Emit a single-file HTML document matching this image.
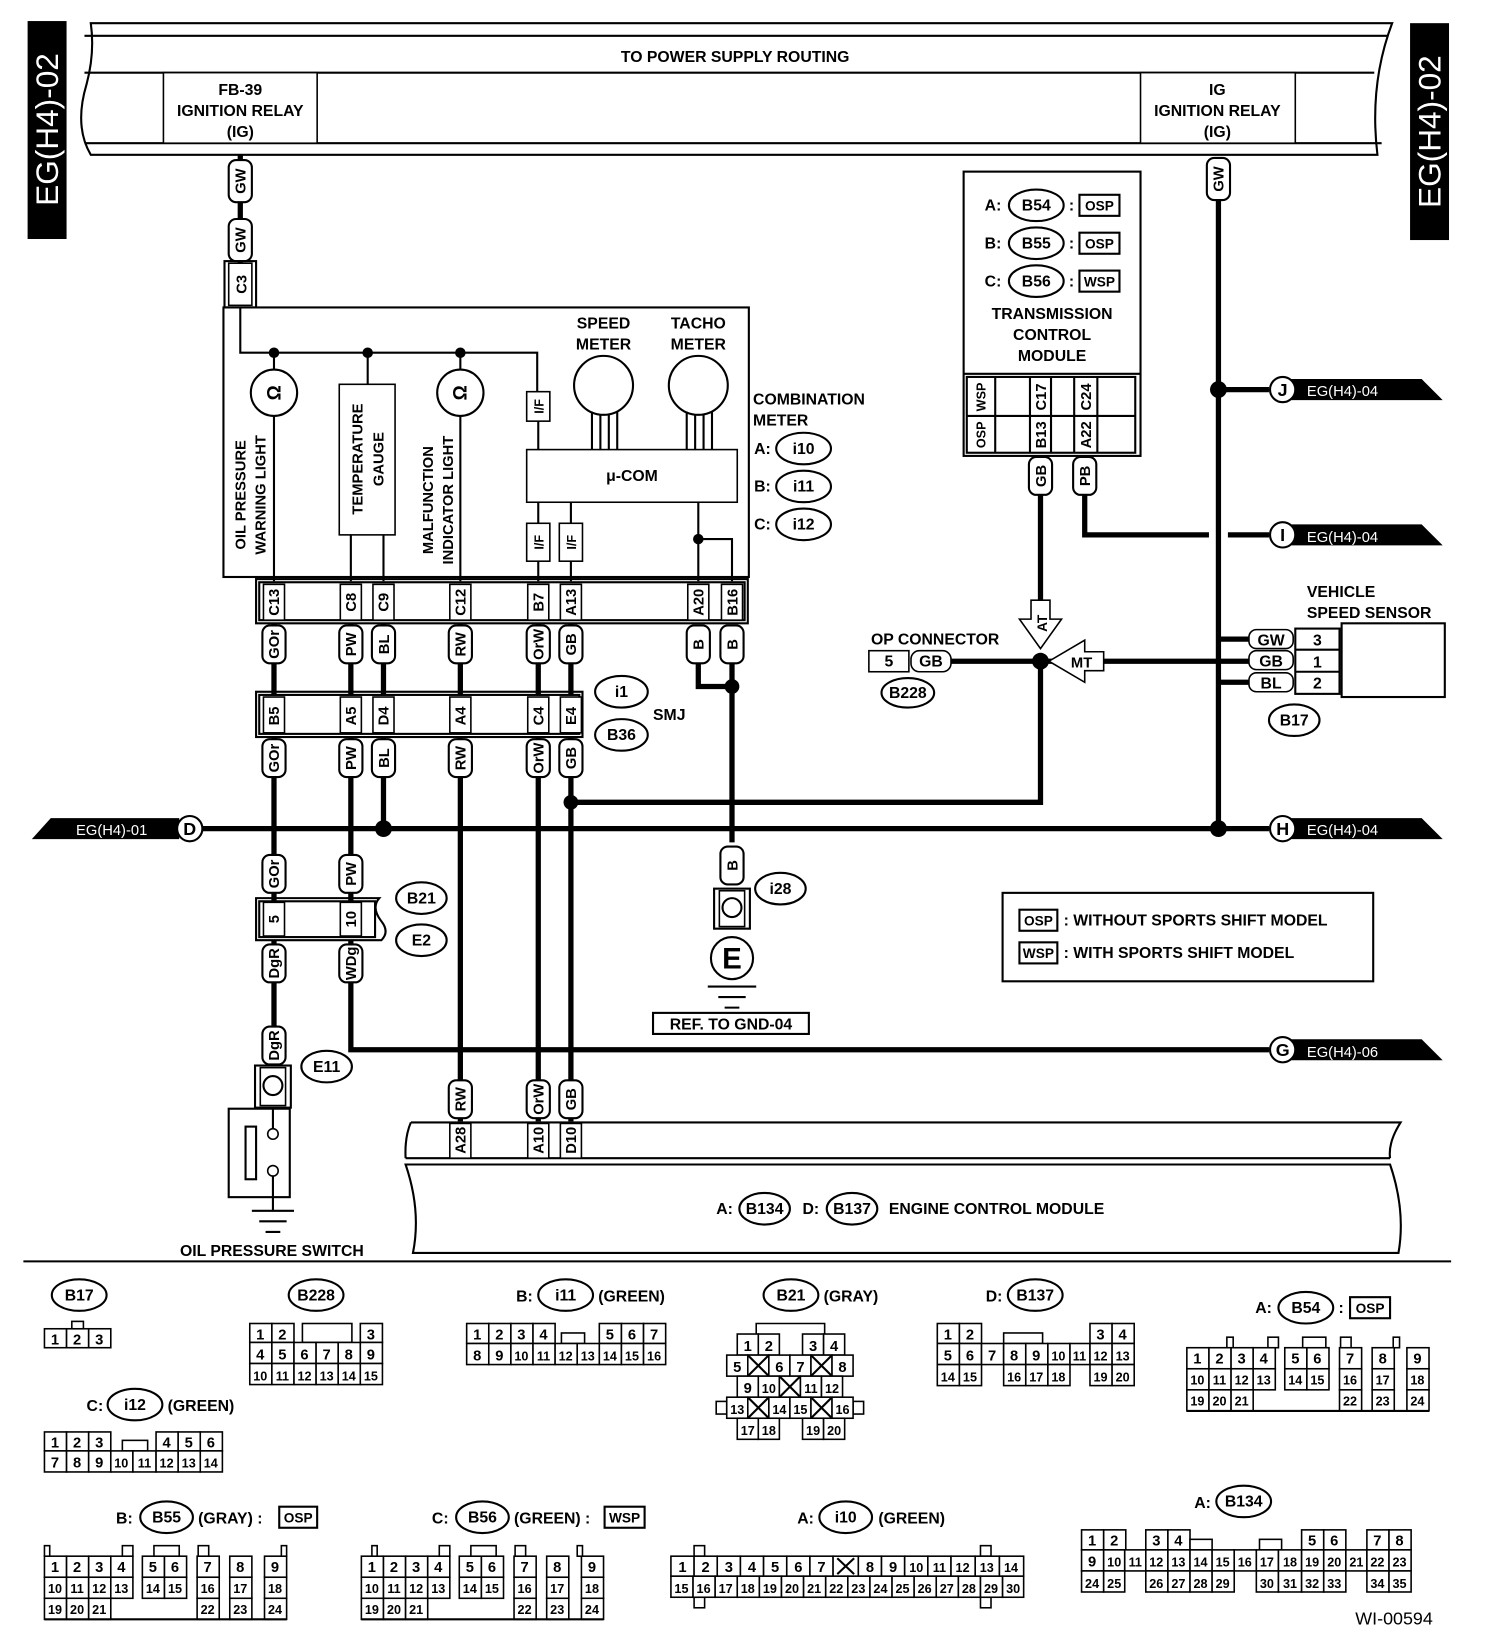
<!DOCTYPE html>
<html><head><meta charset="utf-8"><style>
html,body{margin:0;padding:0;background:#fff}
svg{display:block}
text{font-family:"Liberation Sans",Arial,sans-serif;font-weight:bold;fill:#000}
.c{fill:#fff;stroke:#000;stroke-width:1.5}
.n{font-size:14px;text-anchor:middle;font-family:"Liberation Sans Narrow","Liberation Sans",sans-serif}
.t{fill:#fff;stroke:#000;stroke-width:2}
.v{font-size:14px;text-anchor:middle}
.w{stroke:#000;stroke-width:5;fill:none}
.l{stroke:#000;stroke-width:2;fill:none}
.m{font-size:15px;text-anchor:middle}
</style></head><body>
<svg width="1504" height="1652" viewBox="0 0 1428 1569" xmlns="http://www.w3.org/2000/svg">
<rect width="1428" height="1569" fill="#fff"/>
<rect x="26" y="20" width="37" height="207" fill="#000"/>
<text transform="translate(55,123) rotate(-90)" style="font-size:30px;fill:#fff;text-anchor:middle;font-weight:normal">EG(H4)-02</text>
<rect x="1339" y="22" width="37" height="206" fill="#000"/>
<text transform="translate(1368,125) rotate(-90)" style="font-size:30px;fill:#fff;text-anchor:middle;font-weight:normal">EG(H4)-02</text>
<path class="l" d="M86,22 H1322 Q1300,80 1308,147 H86 Q70,120 82,80 Q90,50 86,22 Z" stroke-width="2.5"/>
<line class="l" x1="80" y1="34" x2="1318" y2="34"/>
<line class="l" x1="80" y1="69" x2="1305" y2="69"/>
<line class="l" x1="80" y1="136" x2="1312" y2="136"/>
<text x="698" y="59" style="font-size:15px;text-anchor:middle">TO POWER SUPPLY ROUTING</text>
<rect class="c" x="155" y="69" width="146" height="67" stroke-width="2"/>
<text class="m" x="228" y="90">FB-39</text><text class="m" x="228" y="110">IGNITION RELAY</text><text class="m" x="228" y="130">(IG)</text>
<rect class="c" x="1083" y="69" width="147" height="67" stroke-width="2"/>
<text class="m" x="1156" y="90">IG</text><text class="m" x="1156" y="110">IGNITION RELAY</text><text class="m" x="1156" y="130">(IG)</text>

<line class="w" x1="228" y1="147" x2="228" y2="260"/>
<g transform="translate(228,172)"><rect x="-11" y="-20" width="22" height="40" rx="7" class="t"/><text transform="rotate(-90)" class="v" y="5">GW</text></g>
<g transform="translate(228,228)"><rect x="-11" y="-20" width="22" height="40" rx="7" class="t"/><text transform="rotate(-90)" class="v" y="5">GW</text></g>
<rect class="c" x="217" y="250" width="22" height="40" stroke-width="2"/><rect class="l" x="213" y="248" width="30" height="44" stroke-width="1.5"/>
<text transform="translate(234,270) rotate(-90)" class="v">C3</text>

<rect class="l" x="212" y="292" width="499" height="256" stroke-width="2.5"/>
<path class="l" d="M228,292 V335 H510 V372" stroke-width="2.5"/>
<circle cx="260" cy="335" r="5"/><circle cx="349" cy="335" r="5"/><circle cx="437" cy="335" r="5"/>
<line class="l" x1="260" y1="335" x2="260" y2="552"/>
<circle class="t" cx="260" cy="373" r="22" stroke-width="2.5"/>
<text transform="translate(266,373) rotate(-90)" class="v" style="font-size:18px">Ω</text>
<line class="l" x1="437" y1="335" x2="437" y2="552"/>
<circle class="t" cx="437" cy="373" r="22" stroke-width="2.5"/>
<text transform="translate(443,373) rotate(-90)" class="v" style="font-size:18px">Ω</text>
<line class="l" x1="349" y1="335" x2="349" y2="365"/>
<rect class="c" x="322" y="365" width="53" height="143" stroke-width="2.5"/>
<line class="l" x1="333" y1="508" x2="333" y2="552"/><line class="l" x1="364" y1="508" x2="364" y2="552"/>
<text transform="translate(344,436) rotate(-90)" class="v">TEMPERATURE</text>
<text transform="translate(364,436) rotate(-90)" class="v">GAUGE</text>
<text transform="translate(233,470) rotate(-90)" class="v">OIL PRESSURE</text>
<text transform="translate(252,470) rotate(-90)" class="v">WARNING LIGHT</text>
<text transform="translate(411,475) rotate(-90)" class="v">MALFUNCTION</text>
<text transform="translate(430,475) rotate(-90)" class="v">INDICATOR LIGHT</text>
<rect class="c" x="500" y="372" width="22" height="28" stroke-width="2"/><text transform="translate(516,386) rotate(-90)" class="v" style="font-size:12px">I/F</text>
<line class="l" x1="511" y1="400" x2="511" y2="427"/>
<text class="m" x="573" y="312">SPEED</text><text class="m" x="573" y="332">METER</text>
<text class="m" x="663" y="312">TACHO</text><text class="m" x="663" y="332">METER</text>
<circle class="l" cx="573" cy="366" r="28" stroke-width="2.5"/><circle class="l" cx="663" cy="366" r="28" stroke-width="2.5"/>
<path class="l" d="M562,391V427M570,394V427M578,394V427M586,391V427M652,391V427M660,394V427M668,394V427M676,391V427"/>
<rect class="c" x="500" y="427" width="200" height="50" stroke-width="2.5"/>
<text class="m" x="600" y="457">μ-COM</text>
<line class="l" x1="511" y1="477" x2="511" y2="552"/><line class="l" x1="542" y1="477" x2="542" y2="552"/>
<rect class="c" x="500" y="497" width="22" height="36" stroke-width="2"/><text transform="translate(516,515) rotate(-90)" class="v" style="font-size:12px">I/F</text>
<rect class="c" x="531" y="497" width="22" height="36" stroke-width="2"/><text transform="translate(547,515) rotate(-90)" class="v" style="font-size:12px">I/F</text>
<path class="l" d="M663,477V552M663,512H695V552"/><circle cx="663" cy="512" r="5"/>
<text x="715" y="384" style="font-size:15px">COMBINATION</text><text x="715" y="404" style="font-size:15px">METER</text>
<text x="716" y="431" style="font-size:15px">A:</text><ellipse class="l" cx="763" cy="426" rx="26" ry="15"/><text class="m" x="763" y="431">i10</text>
<text x="716" y="467" style="font-size:15px">B:</text><ellipse class="l" cx="763" cy="462" rx="26" ry="15"/><text class="m" x="763" y="467">i11</text>
<text x="716" y="503" style="font-size:15px">C:</text><ellipse class="l" cx="763" cy="498" rx="26" ry="15"/><text class="m" x="763" y="503">i12</text>

<rect class="l" x="243" y="550" width="467" height="42" stroke-width="2"/>
<rect class="l" x="246" y="553" width="461" height="36" stroke-width="1.5"/>
<g class="v">
<rect class="c" x="250" y="555" width="20" height="34"/><text transform="translate(265,572) rotate(-90)">C13</text>
<rect class="c" x="323" y="555" width="20" height="34"/><text transform="translate(338,572) rotate(-90)">C8</text>
<rect class="c" x="354" y="555" width="20" height="34"/><text transform="translate(369,572) rotate(-90)">C9</text>
<rect class="c" x="427" y="555" width="20" height="34"/><text transform="translate(442,572) rotate(-90)">C12</text>
<rect class="c" x="501" y="555" width="20" height="34"/><text transform="translate(516,572) rotate(-90)">B7</text>
<rect class="c" x="532" y="555" width="20" height="34"/><text transform="translate(547,572) rotate(-90)">A13</text>
<rect class="c" x="653" y="555" width="20" height="34"/><text transform="translate(668,572) rotate(-90)">A20</text>
<rect class="c" x="685" y="555" width="20" height="34"/><text transform="translate(700,572) rotate(-90)">B16</text>
</g>
<path class="w" d="M260,592V660M333,592V660M364,592V660M437,592V660M511,592V660M542,592V660"/>
<path class="w" d="M663,630V652H695M695,630V800"/><circle cx="695" cy="652" r="7"/>
<g transform="translate(260,612)"><rect x="-11" y="-18" width="22" height="36" rx="7" class="t"/><text transform="rotate(-90)" class="v" y="5">GOr</text></g>
<g transform="translate(333,612)"><rect x="-11" y="-18" width="22" height="36" rx="7" class="t"/><text transform="rotate(-90)" class="v" y="5">PW</text></g>
<g transform="translate(364,612)"><rect x="-11" y="-18" width="22" height="36" rx="7" class="t"/><text transform="rotate(-90)" class="v" y="5">BL</text></g>
<g transform="translate(437,612)"><rect x="-11" y="-18" width="22" height="36" rx="7" class="t"/><text transform="rotate(-90)" class="v" y="5">RW</text></g>
<g transform="translate(511,612)"><rect x="-11" y="-18" width="22" height="36" rx="7" class="t"/><text transform="rotate(-90)" class="v" y="5">OrW</text></g>
<g transform="translate(542,612)"><rect x="-11" y="-18" width="22" height="36" rx="7" class="t"/><text transform="rotate(-90)" class="v" y="5">GB</text></g>
<g transform="translate(663,612)"><rect x="-11" y="-18" width="22" height="36" rx="7" class="t"/><text transform="rotate(-90)" class="v" y="5">B</text></g>
<g transform="translate(695,612)"><rect x="-11" y="-18" width="22" height="36" rx="7" class="t"/><text transform="rotate(-90)" class="v" y="5">B</text></g>

<rect class="l" x="243" y="657" width="310" height="43" stroke-width="2"/>
<rect class="l" x="246" y="660" width="304" height="37" stroke-width="1.5"/>
<g class="v">
<rect class="c" x="250" y="662" width="20" height="34"/><text transform="translate(265,680) rotate(-90)">B5</text>
<rect class="c" x="323" y="662" width="20" height="34"/><text transform="translate(338,680) rotate(-90)">A5</text>
<rect class="c" x="354" y="662" width="20" height="34"/><text transform="translate(369,680) rotate(-90)">D4</text>
<rect class="c" x="427" y="662" width="20" height="34"/><text transform="translate(442,680) rotate(-90)">A4</text>
<rect class="c" x="501" y="662" width="20" height="34"/><text transform="translate(516,680) rotate(-90)">C4</text>
<rect class="c" x="532" y="662" width="20" height="34"/><text transform="translate(547,680) rotate(-90)">E4</text>
</g>
<ellipse class="l" cx="590" cy="657" rx="25" ry="15"/><text class="m" x="590" y="662">i1</text>
<ellipse class="l" cx="590" cy="698" rx="25" ry="15"/><text class="m" x="590" y="703">B36</text>
<text x="620" y="684" style="font-size:15px">SMJ</text>
<path class="w" d="M260,700V860M333,700V860M364,700V787M437,700V1065M511,700V1065M542,700V1065"/>
<path class="w" d="M542,762H988V628"/><circle cx="542" cy="762" r="7"/>
<g transform="translate(260,720)"><rect x="-11" y="-18" width="22" height="36" rx="7" class="t"/><text transform="rotate(-90)" class="v" y="5">GOr</text></g>
<g transform="translate(333,720)"><rect x="-11" y="-18" width="22" height="36" rx="7" class="t"/><text transform="rotate(-90)" class="v" y="5">PW</text></g>
<g transform="translate(364,720)"><rect x="-11" y="-18" width="22" height="36" rx="7" class="t"/><text transform="rotate(-90)" class="v" y="5">BL</text></g>
<g transform="translate(437,720)"><rect x="-11" y="-18" width="22" height="36" rx="7" class="t"/><text transform="rotate(-90)" class="v" y="5">RW</text></g>
<g transform="translate(511,720)"><rect x="-11" y="-18" width="22" height="36" rx="7" class="t"/><text transform="rotate(-90)" class="v" y="5">OrW</text></g>
<g transform="translate(542,720)"><rect x="-11" y="-18" width="22" height="36" rx="7" class="t"/><text transform="rotate(-90)" class="v" y="5">GB</text></g>

<line class="w" x1="192" y1="787" x2="1205" y2="787"/>
<circle cx="364" cy="787" r="8"/><circle cx="1157" cy="787" r="8"/>
<path d="M30,797 L48,777 H170 V797 Z" fill="#000"/>
<text x="72" y="793" style="font-size:14px;fill:#fff;font-weight:normal">EG(H4)-01</text>
<circle cx="180" cy="787" r="12" class="t" stroke-width="2.5"/><text class="m" x="180" y="793" style="font-size:17px">D</text>
<path d="M1225,777 H1350 L1370,797 H1225 Z" fill="#000"/>
<circle cx="1218" cy="787" r="12" class="t" stroke-width="2.5"/><text class="m" x="1218" y="793" style="font-size:17px">H</text>
<text x="1241" y="793" style="font-size:14px;fill:#fff;font-weight:normal">EG(H4)-04</text>

<g transform="translate(260,830)"><rect x="-11" y="-18" width="22" height="36" rx="7" class="t"/><text transform="rotate(-90)" class="v" y="5">GOr</text></g>
<g transform="translate(333,830)"><rect x="-11" y="-18" width="22" height="36" rx="7" class="t"/><text transform="rotate(-90)" class="v" y="5">PW</text></g>
<path class="l" d="M243,853 H360 Q352,862 362,875 Q370,885 362,893 H243 Z" stroke-width="2"/>
<rect class="l" x="246" y="856" width="110" height="34" stroke-width="1.5"/>
<rect class="c" x="250" y="857" width="20" height="32"/><text transform="translate(265,873) rotate(-90)" class="v">5</text>
<rect class="c" x="323" y="857" width="20" height="32"/><text transform="translate(338,873) rotate(-90)" class="v">10</text>
<ellipse class="l" cx="400" cy="853" rx="24" ry="15"/><text class="m" x="400" y="858">B21</text>
<ellipse class="l" cx="400" cy="893" rx="24" ry="15"/><text class="m" x="400" y="898">E2</text>
<path class="w" d="M260,893V975M333,893V997H1205"/>
<g transform="translate(260,915)"><rect x="-11" y="-18" width="22" height="36" rx="7" class="t"/><text transform="rotate(-90)" class="v" y="5">DgR</text></g>
<g transform="translate(333,915)"><rect x="-11" y="-18" width="22" height="36" rx="7" class="t"/><text transform="rotate(-90)" class="v" y="5">WDg</text></g>
<path d="M1225,987 H1350 L1370,1007 H1225 Z" fill="#000"/>
<circle cx="1218" cy="997" r="12" class="t" stroke-width="2.5"/><text class="m" x="1218" y="1003" style="font-size:17px">G</text>
<text x="1241" y="1004" style="font-size:14px;fill:#fff;font-weight:normal">EG(H4)-06</text>

<g transform="translate(260,993)"><rect x="-11" y="-18" width="22" height="36" rx="7" class="t"/><text transform="rotate(-90)" class="v" y="5">DgR</text></g>
<rect class="l" x="242" y="1012" width="34" height="40" stroke-width="2"/>
<rect class="c" x="247" y="1014" width="24" height="36" stroke-width="2"/>
<circle class="l" cx="259" cy="1031" r="9" stroke-width="2.5"/>
<ellipse class="l" cx="310" cy="1013" rx="24" ry="15"/><text class="m" x="310" y="1018">E11</text>
<rect class="l" x="217" y="1053" width="58" height="84" stroke-width="2.5"/>
<rect class="l" x="233" y="1070" width="10" height="50"/>
<path class="l" d="M259,1052V1072M259,1112V1150" stroke-width="2.5"/>
<circle class="c" cx="259" cy="1077" r="5" stroke-width="2"/><circle class="c" cx="259" cy="1112" r="5" stroke-width="2"/>
<path class="l" d="M239,1150H279M246,1160H272M252,1170H266" stroke-width="2.5"/>
<text class="m" x="258" y="1193">OIL PRESSURE SWITCH</text>

<g transform="translate(695,822)"><rect x="-11" y="-18" width="22" height="36" rx="7" class="t"/><text transform="rotate(-90)" class="v" y="5">B</text></g>
<rect class="l" x="678" y="844" width="34" height="38" stroke-width="2"/>
<rect class="c" x="683" y="846" width="24" height="34" stroke-width="2"/>
<circle class="l" cx="695" cy="862" r="9" stroke-width="2.5"/>
<ellipse class="l" cx="741" cy="844" rx="24" ry="15"/><text class="m" x="741" y="849">i28</text>
<circle class="t" cx="695" cy="910" r="20" stroke-width="3"/><text class="m" x="695" y="920" style="font-size:28px">E</text>
<path class="l" d="M672,937H718M682,947H708M688,957H702" stroke-width="2.5"/>
<rect class="l" x="620" y="962" width="148" height="20" stroke-width="2"/>
<text class="m" x="694" y="978">REF. TO GND-04</text>

<g transform="translate(437,1044)"><rect x="-11" y="-18" width="22" height="36" rx="7" class="t"/><text transform="rotate(-90)" class="v" y="5">RW</text></g>
<g transform="translate(511,1044)"><rect x="-11" y="-18" width="22" height="36" rx="7" class="t"/><text transform="rotate(-90)" class="v" y="5">OrW</text></g>
<g transform="translate(542,1044)"><rect x="-11" y="-18" width="22" height="36" rx="7" class="t"/><text transform="rotate(-90)" class="v" y="5">GB</text></g>
<path class="l" d="M390,1066 H1330 Q1318,1085 1320,1100 M390,1066 Q384,1080 385,1100" stroke-width="2.5"/>
<line class="l" x1="385" y1="1100" x2="1320" y2="1100" stroke-width="2.5"/>
<path class="l" d="M385,1106 H1320 Q1335,1150 1328,1190 H392 Q400,1150 385,1106 Z" stroke-width="2.5"/>
<rect class="c" x="427" y="1067" width="20" height="33"/><text transform="translate(442,1083) rotate(-90)" class="v">A28</text>
<rect class="c" x="501" y="1067" width="20" height="33"/><text transform="translate(516,1083) rotate(-90)" class="v">A10</text>
<rect class="c" x="532" y="1067" width="20" height="33"/><text transform="translate(547,1083) rotate(-90)" class="v">D10</text>
<text x="680" y="1153" style="font-size:15px">A:</text><ellipse class="l" cx="726" cy="1148" rx="24" ry="15"/><text class="m" x="726" y="1153">B134</text>
<text x="762" y="1153" style="font-size:15px">D:</text><ellipse class="l" cx="809" cy="1148" rx="24" ry="15"/><text class="m" x="809" y="1153">B137</text>
<text x="844" y="1153" style="font-size:15px">ENGINE CONTROL MODULE</text>

<rect class="l" x="915" y="163" width="168" height="270" stroke-width="2.5"/>
<text x="935" y="200" style="font-size:15px">A:</text><ellipse class="l" cx="984" cy="195" rx="26" ry="15"/><text class="m" x="984" y="200">B54</text><text x="1015" y="200" style="font-size:15px">:</text><rect class="l" x="1025" y="185" width="38" height="20" stroke-width="2"/><text class="m" x="1044" y="200" style="font-size:13px">OSP</text>
<text x="935" y="236" style="font-size:15px">B:</text><ellipse class="l" cx="984" cy="231" rx="26" ry="15"/><text class="m" x="984" y="236">B55</text><text x="1015" y="236" style="font-size:15px">:</text><rect class="l" x="1025" y="221" width="38" height="20" stroke-width="2"/><text class="m" x="1044" y="236" style="font-size:13px">OSP</text>
<text x="935" y="272" style="font-size:15px">C:</text><ellipse class="l" cx="984" cy="267" rx="26" ry="15"/><text class="m" x="984" y="272">B56</text><text x="1015" y="272" style="font-size:15px">:</text><rect class="l" x="1025" y="257" width="38" height="20" stroke-width="2"/><text class="m" x="1044" y="272" style="font-size:13px">WSP</text>
<text class="m" x="999" y="303">TRANSMISSION</text><text class="m" x="999" y="323">CONTROL</text><text class="m" x="999" y="343">MODULE</text>
<line class="l" x1="915" y1="355" x2="1083" y2="355" stroke-width="2.5"/>
<rect class="l" x="918" y="358" width="160" height="72" stroke-width="1.5"/>
<path class="l" d="M918,395H1078M945,358V430M978,358V430M998,358V430M1020,358V430M1042,358V430" stroke-width="1.5"/>
<text transform="translate(936,377) rotate(-90)" class="v" style="font-size:12px">WSP</text>
<text transform="translate(936,413) rotate(-90)" class="v" style="font-size:12px">OSP</text>
<text transform="translate(993,377) rotate(-90)" class="v">C17</text>
<text transform="translate(993,413) rotate(-90)" class="v">B13</text>
<text transform="translate(1036,377) rotate(-90)" class="v">C24</text>
<text transform="translate(1036,413) rotate(-90)" class="v">A22</text>
<path class="w" d="M988,470V575M1030,470V508H1148M1166,508H1205"/>
<g transform="translate(988,452)"><rect x="-11" y="-18" width="22" height="36" rx="7" class="t"/><text transform="rotate(-90)" class="v" y="5">GB</text></g>
<g transform="translate(1030,452)"><rect x="-11" y="-18" width="22" height="36" rx="7" class="t"/><text transform="rotate(-90)" class="v" y="5">PB</text></g>
<path class="w" d="M1157,190V787M1157,370H1205M1157,607H1190"/>
<g transform="translate(1157,170)"><rect x="-11" y="-20" width="22" height="40" rx="7" class="t"/><text transform="rotate(-90)" class="v" y="5">GW</text></g>
<circle cx="1157" cy="370" r="8"/>
<path d="M1225,360 H1350 L1370,380 H1225 Z" fill="#000"/>
<circle cx="1218" cy="370" r="12" class="t" stroke-width="2.5"/><text class="m" x="1218" y="376" style="font-size:17px">J</text>
<text x="1241" y="376" style="font-size:14px;fill:#fff;font-weight:normal">EG(H4)-04</text>
<path d="M1225,498 H1350 L1370,518 H1225 Z" fill="#000"/>
<circle cx="1218" cy="508" r="12" class="t" stroke-width="2.5"/><text class="m" x="1218" y="514" style="font-size:17px">I</text>
<text x="1241" y="515" style="font-size:14px;fill:#fff;font-weight:normal">EG(H4)-04</text>

<path class="w" d="M900,628H1190M1157,648H1190"/>
<circle cx="988" cy="628" r="8"/>
<path class="c" d="M979,570 H997 V588 H1008 L988,616 L968,588 H979 Z" stroke-width="2.5"/>
<text transform="translate(994,592) rotate(-90)" class="v" style="font-size:13px">AT</text>
<path class="c" d="M1048,619 V637 H1030 V648 L996,628 L1030,608 V619 Z" stroke-width="2.5"/>
<text x="1027" y="634" class="v" style="font-size:14px">MT</text>
<text x="827" y="612" style="font-size:15px">OP CONNECTOR</text>
<rect class="c" x="825" y="618" width="38" height="20" stroke-width="2"/><text class="m" x="844" y="633">5</text>
<rect class="c" x="865" y="618" width="38" height="20" rx="8" stroke-width="2"/><text class="m" x="884" y="633">GB</text>
<ellipse class="l" cx="862" cy="658" rx="25" ry="14"/><text class="m" x="862" y="663">B228</text>
<text x="1241" y="567" style="font-size:15px">VEHICLE</text><text x="1241" y="587" style="font-size:15px">SPEED SENSOR</text>
<rect class="c" x="1186" y="598" width="42" height="18" rx="7" stroke-width="2"/><text class="m" x="1207" y="613">GW</text>
<rect class="c" x="1186" y="618" width="42" height="18" rx="7" stroke-width="2"/><text class="m" x="1207" y="633">GB</text>
<rect class="c" x="1186" y="639" width="42" height="18" rx="7" stroke-width="2"/><text class="m" x="1207" y="654">BL</text>
<rect class="l" x="1230" y="597" width="42" height="62" stroke-width="2"/>
<path class="l" d="M1230,617H1272M1230,638H1272"/>
<text class="m" x="1251" y="613">3</text><text class="m" x="1251" y="634">1</text><text class="m" x="1251" y="654">2</text>
<rect class="l" x="1274" y="592" width="98" height="70" stroke-width="2"/>
<ellipse class="l" cx="1229" cy="684" rx="24" ry="15"/><text class="m" x="1229" y="689">B17</text>

<rect class="l" x="952" y="848" width="352" height="84" stroke-width="2.5"/>
<rect class="l" x="968" y="864" width="36" height="20" stroke-width="2"/><text class="m" x="986" y="879" style="font-size:13px">OSP</text>
<text x="1010" y="879" style="font-size:15px">: WITHOUT SPORTS SHIFT MODEL</text>
<rect class="l" x="968" y="895" width="36" height="20" stroke-width="2"/><text class="m" x="986" y="910" style="font-size:13px">WSP</text>
<text x="1010" y="910" style="font-size:15px">: WITH SPORTS SHIFT MODEL</text>

<line class="l" x1="22" y1="1198" x2="1378" y2="1198" stroke-width="2.5"/>

<ellipse class="l" cx="75" cy="1230" rx="26" ry="15"/><text class="m" x="75" y="1235">B17</text>
<g class="c"><rect x="42" y="1262" width="21" height="18"/><rect x="63" y="1262" width="21" height="18"/><rect x="84" y="1262" width="21" height="18"/><rect x="68" y="1255" width="11" height="7"/></g>
<g class="n"><text x="52" y="1277">1</text><text x="73" y="1277">2</text><text x="94" y="1277">3</text></g>

<ellipse class="l" cx="300" cy="1230" rx="26" ry="15"/><text class="m" x="300" y="1235">B228</text>
<g class="c"><rect x="237" y="1257" width="21" height="18"/><rect x="258" y="1257" width="21" height="18"/><rect x="287" y="1257" width="47" height="18"/><rect x="342" y="1257" width="21" height="18"/>
<rect x="237" y="1275" width="21" height="20"/><rect x="258" y="1275" width="21" height="20"/><rect x="279" y="1275" width="21" height="20"/><rect x="300" y="1275" width="21" height="20"/><rect x="321" y="1275" width="21" height="20"/><rect x="342" y="1275" width="21" height="20"/>
<rect x="237" y="1295" width="21" height="20"/><rect x="258" y="1295" width="21" height="20"/><rect x="279" y="1295" width="21" height="20"/><rect x="300" y="1295" width="21" height="20"/><rect x="321" y="1295" width="21" height="20"/><rect x="342" y="1295" width="21" height="20"/></g>
<g class="n"><text x="247" y="1272">1</text><text x="268" y="1272">2</text><text x="352" y="1272">3</text>
<text x="247" y="1291">4</text><text x="268" y="1291">5</text><text x="289" y="1291">6</text><text x="310" y="1291">7</text><text x="331" y="1291">8</text><text x="352" y="1291">9</text>
<text x="247" y="1311" style="font-size:12px">10</text><text x="268" y="1311" style="font-size:12px">11</text><text x="289" y="1311" style="font-size:12px">12</text><text x="310" y="1311" style="font-size:12px">13</text><text x="331" y="1311" style="font-size:12px">14</text><text x="352" y="1311" style="font-size:12px">15</text></g>

<text x="490" y="1236" style="font-size:15px">B:</text><ellipse class="l" cx="537" cy="1230" rx="26" ry="15"/><text class="m" x="537" y="1235">i11</text><text x="568" y="1236" style="font-size:15px">(GREEN)</text>
<g class="c"><rect x="443" y="1257" width="21" height="19"/><rect x="464" y="1257" width="21" height="19"/><rect x="485" y="1257" width="21" height="19"/><rect x="506" y="1257" width="21" height="19"/><rect x="533" y="1266" width="22" height="10"/><rect x="569" y="1257" width="21" height="19"/><rect x="590" y="1257" width="21" height="19"/><rect x="611" y="1257" width="21" height="19"/>
<rect x="443" y="1276" width="21" height="20"/><rect x="464" y="1276" width="21" height="20"/><rect x="485" y="1276" width="21" height="20"/><rect x="506" y="1276" width="21" height="20"/><rect x="527" y="1276" width="21" height="20"/><rect x="548" y="1276" width="21" height="20"/><rect x="569" y="1276" width="21" height="20"/><rect x="590" y="1276" width="21" height="20"/><rect x="611" y="1276" width="21" height="20"/></g>
<g class="n"><text x="453" y="1272">1</text><text x="474" y="1272">2</text><text x="495" y="1272">3</text><text x="516" y="1272">4</text><text x="579" y="1272">5</text><text x="600" y="1272">6</text><text x="621" y="1272">7</text>
<text x="453" y="1292">8</text><text x="474" y="1292">9</text><g style="font-size:12px"><text x="495" y="1292">10</text><text x="516" y="1292">11</text><text x="537" y="1292">12</text><text x="558" y="1292">13</text><text x="579" y="1292">14</text><text x="600" y="1292">15</text><text x="621" y="1292">16</text></g></g>

<ellipse class="l" cx="751" cy="1230" rx="26" ry="15"/><text class="m" x="751" y="1235">B21</text><text x="782" y="1236" style="font-size:15px">(GRAY)</text>
<g class="c"><path d="M718,1267V1257H783V1267" fill="none"/>
<rect x="700" y="1267" width="20" height="20"/><rect x="720" y="1267" width="20" height="20"/><rect x="762" y="1267" width="20" height="20"/><rect x="782" y="1267" width="20" height="20"/>
<rect x="690" y="1287" width="20" height="20"/><rect x="710" y="1287" width="20" height="20"/><rect x="730" y="1287" width="20" height="20"/><rect x="750" y="1287" width="20" height="20"/><rect x="770" y="1287" width="20" height="20"/><rect x="790" y="1287" width="20" height="20"/>
<rect x="700" y="1307" width="20" height="20"/><rect x="720" y="1307" width="20" height="20"/><rect x="740" y="1307" width="20" height="20"/><rect x="760" y="1307" width="20" height="20"/><rect x="780" y="1307" width="20" height="20"/>
<rect x="680" y="1331" width="10" height="12"/><rect x="810" y="1331" width="10" height="12"/>
<rect x="690" y="1327" width="20" height="20"/><rect x="710" y="1327" width="20" height="20"/><rect x="730" y="1327" width="20" height="20"/><rect x="750" y="1327" width="20" height="20"/><rect x="770" y="1327" width="20" height="20"/><rect x="790" y="1327" width="20" height="20"/>
<rect x="700" y="1347" width="20" height="20"/><rect x="720" y="1347" width="20" height="20"/><rect x="762" y="1347" width="20" height="20"/><rect x="782" y="1347" width="20" height="20"/></g>
<path class="l" d="M710,1287L730,1307M730,1287L710,1307M770,1287L790,1307M790,1287L770,1307M740,1307L760,1327M760,1307L740,1327M710,1327L730,1347M730,1327L710,1347M770,1327L790,1347M790,1327L770,1347" stroke-width="1.3"/>
<g class="n"><text x="710" y="1283">1</text><text x="730" y="1283">2</text><text x="772" y="1283">3</text><text x="792" y="1283">4</text>
<text x="700" y="1303">5</text><text x="740" y="1303">6</text><text x="760" y="1303">7</text><text x="800" y="1303">8</text>
<text x="710" y="1323">9</text><text x="730" y="1323" style="font-size:12px">10</text><text x="770" y="1323" style="font-size:12px">11</text><text x="790" y="1323" style="font-size:12px">12</text>
<g style="font-size:12px"><text x="700" y="1343">13</text><text x="740" y="1343">14</text><text x="760" y="1343">15</text><text x="800" y="1343">16</text>
<text x="710" y="1363">17</text><text x="730" y="1363">18</text><text x="772" y="1363">19</text><text x="792" y="1363">20</text></g></g>

<text x="936" y="1236" style="font-size:15px">D:</text><ellipse class="l" cx="983" cy="1230" rx="26" ry="15"/><text class="m" x="983" y="1235">B137</text>
<g class="c"><rect x="890" y="1257" width="21" height="19"/><rect x="911" y="1257" width="21" height="19"/><rect x="953" y="1266" width="37" height="10"/><rect x="1035" y="1257" width="21" height="19"/><rect x="1056" y="1257" width="21" height="19"/>
<rect x="890" y="1276" width="21" height="20"/><rect x="911" y="1276" width="21" height="20"/><rect x="932" y="1276" width="21" height="20"/><rect x="953" y="1276" width="21" height="20"/><rect x="974" y="1276" width="21" height="20"/><rect x="995" y="1276" width="21" height="20"/><rect x="1016" y="1276" width="19" height="20"/><rect x="1035" y="1276" width="21" height="20"/><rect x="1056" y="1276" width="21" height="20"/>
<rect x="890" y="1296" width="21" height="20"/><rect x="911" y="1296" width="21" height="20"/><rect x="953" y="1296" width="21" height="20"/><rect x="974" y="1296" width="21" height="20"/><rect x="995" y="1296" width="21" height="20"/><rect x="1035" y="1296" width="21" height="20"/><rect x="1056" y="1296" width="21" height="20"/></g>
<g class="n"><text x="900" y="1272">1</text><text x="921" y="1272">2</text><text x="1045" y="1272">3</text><text x="1066" y="1272">4</text>
<text x="900" y="1292">5</text><text x="921" y="1292">6</text><text x="942" y="1292">7</text><text x="963" y="1292">8</text><text x="984" y="1292">9</text><g style="font-size:12px"><text x="1005" y="1292">10</text><text x="1025" y="1292">11</text><text x="1045" y="1292">12</text><text x="1066" y="1292">13</text>
<text x="900" y="1312">14</text><text x="921" y="1312">15</text><text x="963" y="1312">16</text><text x="984" y="1312">17</text><text x="1005" y="1312">18</text><text x="1045" y="1312">19</text><text x="1066" y="1312">20</text></g></g>

<text x="1192" y="1247" style="font-size:15px">A:</text><ellipse class="l" cx="1240" cy="1242" rx="26" ry="15"/><text class="m" x="1240" y="1247">B54</text><text x="1271" y="1247" style="font-size:15px">:</text><rect class="l" x="1282" y="1232" width="38" height="20" stroke-width="2"/><text class="m" x="1301" y="1247" style="font-size:13px">OSP</text>
<g transform="translate(1127,1280)">
<g class="c"><rect x="0" y="0" width="21" height="20"/><rect x="21" y="0" width="21" height="20"/><rect x="42" y="0" width="21" height="20"/><rect x="63" y="0" width="21" height="20"/><rect x="93" y="0" width="21" height="20"/><rect x="114" y="0" width="21" height="20"/><rect x="145" y="0" width="21" height="20"/><rect x="176" y="0" width="21" height="20"/><rect x="209" y="0" width="21" height="20"/>
<rect x="0" y="20" width="21" height="20"/><rect x="21" y="20" width="21" height="20"/><rect x="42" y="20" width="21" height="20"/><rect x="63" y="20" width="21" height="20"/><rect x="93" y="20" width="21" height="20"/><rect x="114" y="20" width="21" height="20"/><rect x="145" y="20" width="21" height="20"/><rect x="176" y="20" width="21" height="20"/><rect x="209" y="20" width="21" height="20"/>
<rect x="0" y="40" width="21" height="20"/><rect x="21" y="40" width="21" height="20"/><rect x="42" y="40" width="21" height="20"/><rect x="145" y="40" width="21" height="20"/><rect x="176" y="40" width="21" height="20"/><rect x="209" y="40" width="21" height="20"/>
<rect x="38" y="-10" width="6" height="10"/><rect x="77" y="-10" width="10" height="10"/><rect x="110" y="-10" width="22" height="10"/><rect x="146" y="-10" width="10" height="10"/><rect x="196" y="-10" width="6" height="10"/></g>
<line class="l" x1="0" y1="60" x2="230" y2="60" stroke-width="1.5"/>
<g class="n"><text x="10" y="15">1</text><text x="31" y="15">2</text><text x="52" y="15">3</text><text x="73" y="15">4</text><text x="103" y="15">5</text><text x="124" y="15">6</text><text x="155" y="15">7</text><text x="186" y="15">8</text><text x="219" y="15">9</text>
<g style="font-size:12px"><text x="10" y="35">10</text><text x="31" y="35">11</text><text x="52" y="35">12</text><text x="73" y="35">13</text><text x="103" y="35">14</text><text x="124" y="35">15</text><text x="155" y="35">16</text><text x="186" y="35">17</text><text x="219" y="35">18</text>
<text x="10" y="55">19</text><text x="31" y="55">20</text><text x="52" y="55">21</text><text x="155" y="55">22</text><text x="186" y="55">23</text><text x="219" y="55">24</text></g></g></g>

<text x="82" y="1340" style="font-size:15px">C:</text><ellipse class="l" cx="128" cy="1334" rx="26" ry="15"/><text class="m" x="128" y="1339">i12</text><text x="159" y="1340" style="font-size:15px">(GREEN)</text>
<g class="c"><rect x="42" y="1360" width="21" height="18"/><rect x="63" y="1360" width="21" height="18"/><rect x="84" y="1360" width="21" height="18"/><rect x="116" y="1368" width="24" height="10"/><rect x="148" y="1360" width="21" height="18"/><rect x="169" y="1360" width="21" height="18"/><rect x="190" y="1360" width="21" height="18"/>
<rect x="42" y="1378" width="21" height="20"/><rect x="63" y="1378" width="21" height="20"/><rect x="84" y="1378" width="21" height="20"/><rect x="105" y="1378" width="21" height="20"/><rect x="126" y="1378" width="22" height="20"/><rect x="148" y="1378" width="21" height="20"/><rect x="169" y="1378" width="21" height="20"/><rect x="190" y="1378" width="21" height="20"/></g>
<g class="n"><text x="52" y="1375">1</text><text x="73" y="1375">2</text><text x="94" y="1375">3</text><text x="158" y="1375">4</text><text x="179" y="1375">5</text><text x="200" y="1375">6</text>
<text x="52" y="1394">7</text><text x="73" y="1394">8</text><text x="94" y="1394">9</text><g style="font-size:12px"><text x="115" y="1394">10</text><text x="137" y="1394">11</text><text x="158" y="1394">12</text><text x="179" y="1394">13</text><text x="200" y="1394">14</text></g></g>

<text x="110" y="1447" style="font-size:15px">B:</text><ellipse class="l" cx="158" cy="1441" rx="25" ry="15"/><text class="m" x="158" y="1446">B55</text><text x="188" y="1447" style="font-size:15px">(GRAY) :</text><rect class="l" x="265" y="1431" width="36" height="20" stroke-width="2"/><text class="m" x="283" y="1446" style="font-size:13px">OSP</text>
<g transform="translate(42,1478)">
<g class="c"><rect x="0" y="0" width="21" height="20"/><rect x="21" y="0" width="21" height="20"/><rect x="42" y="0" width="21" height="20"/><rect x="63" y="0" width="21" height="20"/><rect x="93" y="0" width="21" height="20"/><rect x="114" y="0" width="21" height="20"/><rect x="145" y="0" width="21" height="20"/><rect x="176" y="0" width="21" height="20"/><rect x="209" y="0" width="21" height="20"/>
<rect x="0" y="20" width="21" height="20"/><rect x="21" y="20" width="21" height="20"/><rect x="42" y="20" width="21" height="20"/><rect x="63" y="20" width="21" height="20"/><rect x="93" y="20" width="21" height="20"/><rect x="114" y="20" width="21" height="20"/><rect x="145" y="20" width="21" height="20"/><rect x="176" y="20" width="21" height="20"/><rect x="209" y="20" width="21" height="20"/>
<rect x="0" y="40" width="21" height="20"/><rect x="21" y="40" width="21" height="20"/><rect x="42" y="40" width="21" height="20"/><rect x="145" y="40" width="21" height="20"/><rect x="176" y="40" width="21" height="20"/><rect x="209" y="40" width="21" height="20"/>
<rect x="0" y="-10" width="5" height="10"/><rect x="74" y="-10" width="10" height="10"/><rect x="104" y="-10" width="24" height="10"/><rect x="146" y="-10" width="10" height="10"/><rect x="225" y="-10" width="5" height="10"/></g>
<line class="l" x1="0" y1="60" x2="230" y2="60" stroke-width="1.5"/>
<g class="n"><text x="10" y="15">1</text><text x="31" y="15">2</text><text x="52" y="15">3</text><text x="73" y="15">4</text><text x="103" y="15">5</text><text x="124" y="15">6</text><text x="155" y="15">7</text><text x="186" y="15">8</text><text x="219" y="15">9</text>
<g style="font-size:12px"><text x="10" y="35">10</text><text x="31" y="35">11</text><text x="52" y="35">12</text><text x="73" y="35">13</text><text x="103" y="35">14</text><text x="124" y="35">15</text><text x="155" y="35">16</text><text x="186" y="35">17</text><text x="219" y="35">18</text>
<text x="10" y="55">19</text><text x="31" y="55">20</text><text x="52" y="55">21</text><text x="155" y="55">22</text><text x="186" y="55">23</text><text x="219" y="55">24</text></g></g></g>

<text x="410" y="1447" style="font-size:15px">C:</text><ellipse class="l" cx="458" cy="1441" rx="25" ry="15"/><text class="m" x="458" y="1446">B56</text><text x="488" y="1447" style="font-size:15px">(GREEN) :</text><rect class="l" x="574" y="1431" width="38" height="20" stroke-width="2"/><text class="m" x="593" y="1446" style="font-size:13px">WSP</text>
<g transform="translate(343,1478)">
<g class="c"><rect x="0" y="0" width="21" height="20"/><rect x="21" y="0" width="21" height="20"/><rect x="42" y="0" width="21" height="20"/><rect x="63" y="0" width="21" height="20"/><rect x="93" y="0" width="21" height="20"/><rect x="114" y="0" width="21" height="20"/><rect x="145" y="0" width="21" height="20"/><rect x="176" y="0" width="21" height="20"/><rect x="209" y="0" width="21" height="20"/>
<rect x="0" y="20" width="21" height="20"/><rect x="21" y="20" width="21" height="20"/><rect x="42" y="20" width="21" height="20"/><rect x="63" y="20" width="21" height="20"/><rect x="93" y="20" width="21" height="20"/><rect x="114" y="20" width="21" height="20"/><rect x="145" y="20" width="21" height="20"/><rect x="176" y="20" width="21" height="20"/><rect x="209" y="20" width="21" height="20"/>
<rect x="0" y="40" width="21" height="20"/><rect x="21" y="40" width="21" height="20"/><rect x="42" y="40" width="21" height="20"/><rect x="145" y="40" width="21" height="20"/><rect x="176" y="40" width="21" height="20"/><rect x="209" y="40" width="21" height="20"/>
<rect x="10" y="-10" width="5" height="10"/><rect x="74" y="-10" width="10" height="10"/><rect x="104" y="-10" width="24" height="10"/><rect x="146" y="-10" width="10" height="10"/><rect x="205" y="-10" width="5" height="10"/></g>
<line class="l" x1="0" y1="60" x2="230" y2="60" stroke-width="1.5"/>
<g class="n"><text x="10" y="15">1</text><text x="31" y="15">2</text><text x="52" y="15">3</text><text x="73" y="15">4</text><text x="103" y="15">5</text><text x="124" y="15">6</text><text x="155" y="15">7</text><text x="186" y="15">8</text><text x="219" y="15">9</text>
<g style="font-size:12px"><text x="10" y="35">10</text><text x="31" y="35">11</text><text x="52" y="35">12</text><text x="73" y="35">13</text><text x="103" y="35">14</text><text x="124" y="35">15</text><text x="155" y="35">16</text><text x="186" y="35">17</text><text x="219" y="35">18</text>
<text x="10" y="55">19</text><text x="31" y="55">20</text><text x="52" y="55">21</text><text x="155" y="55">22</text><text x="186" y="55">23</text><text x="219" y="55">24</text></g></g></g>

<text x="757" y="1447" style="font-size:15px">A:</text><ellipse class="l" cx="803" cy="1441" rx="25" ry="15"/><text class="m" x="803" y="1446">i10</text><text x="834" y="1447" style="font-size:15px">(GREEN)</text>
<g class="c"><rect x="659" y="1468" width="10" height="10"/><rect x="931" y="1468" width="10" height="10"/><rect x="659" y="1517" width="10" height="10"/><rect x="931" y="1517" width="10" height="10"/>
<rect x="637" y="1478" width="22" height="19"/><rect x="659" y="1478" width="22" height="19"/><rect x="681" y="1478" width="22" height="19"/><rect x="703" y="1478" width="22" height="19"/><rect x="725" y="1478" width="22" height="19"/><rect x="747" y="1478" width="22" height="19"/><rect x="769" y="1478" width="22" height="19"/><rect x="791" y="1478" width="24" height="19"/><rect x="815" y="1478" width="22" height="19"/><rect x="837" y="1478" width="22" height="19"/><rect x="859" y="1478" width="22" height="19"/><rect x="881" y="1478" width="22" height="19"/><rect x="903" y="1478" width="23" height="19"/><rect x="926" y="1478" width="23" height="19"/><rect x="949" y="1478" width="23" height="19"/>
<rect x="637" y="1497" width="21" height="20"/><rect x="658" y="1497" width="21" height="20"/><rect x="679" y="1497" width="21" height="20"/><rect x="700" y="1497" width="21" height="20"/><rect x="721" y="1497" width="21" height="20"/><rect x="742" y="1497" width="21" height="20"/><rect x="763" y="1497" width="21" height="20"/><rect x="784" y="1497" width="21" height="20"/><rect x="805" y="1497" width="21" height="20"/><rect x="826" y="1497" width="21" height="20"/><rect x="847" y="1497" width="21" height="20"/><rect x="868" y="1497" width="21" height="20"/><rect x="889" y="1497" width="21" height="20"/><rect x="910" y="1497" width="21" height="20"/><rect x="931" y="1497" width="21" height="20"/><rect x="952" y="1497" width="20" height="20"/></g>
<path class="l" d="M795,1480L811,1495M811,1480L795,1495" stroke-width="1.3"/>
<g class="n"><text x="648" y="1493">1</text><text x="670" y="1493">2</text><text x="692" y="1493">3</text><text x="714" y="1493">4</text><text x="736" y="1493">5</text><text x="758" y="1493">6</text><text x="780" y="1493">7</text><text x="826" y="1493">8</text><text x="848" y="1493">9</text><g style="font-size:12px"><text x="870" y="1493">10</text><text x="892" y="1493">11</text><text x="914" y="1493">12</text><text x="937" y="1493">13</text><text x="960" y="1493">14</text>
<text x="647" y="1513">15</text><text x="668" y="1513">16</text><text x="689" y="1513">17</text><text x="710" y="1513">18</text><text x="731" y="1513">19</text><text x="752" y="1513">20</text><text x="773" y="1513">21</text><text x="794" y="1513">22</text><text x="815" y="1513">23</text><text x="836" y="1513">24</text><text x="857" y="1513">25</text><text x="878" y="1513">26</text><text x="899" y="1513">27</text><text x="920" y="1513">28</text><text x="941" y="1513">29</text><text x="962" y="1513">30</text></g></g>

<text x="1134" y="1432" style="font-size:15px">A:</text><ellipse class="l" cx="1181" cy="1426" rx="26" ry="15"/><text class="m" x="1181" y="1431">B134</text>
<g class="c"><rect x="1027" y="1453" width="21" height="19"/><rect x="1048" y="1453" width="21" height="19"/><rect x="1088" y="1453" width="21" height="19"/><rect x="1109" y="1453" width="21" height="19"/><rect x="1130" y="1462" width="21" height="10"/><rect x="1196" y="1462" width="21" height="10"/><rect x="1236" y="1453" width="21" height="19"/><rect x="1257" y="1453" width="21" height="19"/><rect x="1298" y="1453" width="21" height="19"/><rect x="1319" y="1453" width="21" height="19"/>
<rect x="1027" y="1472" width="21" height="20"/><rect x="1048" y="1472" width="20" height="20"/><rect x="1068" y="1472" width="20" height="20"/><rect x="1088" y="1472" width="21" height="20"/><rect x="1109" y="1472" width="21" height="20"/><rect x="1130" y="1472" width="21" height="20"/><rect x="1151" y="1472" width="21" height="20"/><rect x="1172" y="1472" width="21" height="20"/><rect x="1193" y="1472" width="21" height="20"/><rect x="1214" y="1472" width="22" height="20"/><rect x="1236" y="1472" width="21" height="20"/><rect x="1257" y="1472" width="21" height="20"/><rect x="1278" y="1472" width="20" height="20"/><rect x="1298" y="1472" width="21" height="20"/><rect x="1319" y="1472" width="21" height="20"/>
<rect x="1027" y="1492" width="21" height="20"/><rect x="1048" y="1492" width="20" height="20"/><rect x="1088" y="1492" width="21" height="20"/><rect x="1109" y="1492" width="21" height="20"/><rect x="1130" y="1492" width="21" height="20"/><rect x="1151" y="1492" width="21" height="20"/><rect x="1193" y="1492" width="21" height="20"/><rect x="1214" y="1492" width="22" height="20"/><rect x="1236" y="1492" width="21" height="20"/><rect x="1257" y="1492" width="21" height="20"/><rect x="1298" y="1492" width="21" height="20"/><rect x="1319" y="1492" width="21" height="20"/></g>
<g class="n"><text x="1037" y="1468">1</text><text x="1058" y="1468">2</text><text x="1098" y="1468">3</text><text x="1119" y="1468">4</text><text x="1246" y="1468">5</text><text x="1267" y="1468">6</text><text x="1308" y="1468">7</text><text x="1329" y="1468">8</text>
<text x="1037" y="1488">9</text><g style="font-size:12px"><text x="1058" y="1488">10</text><text x="1078" y="1488">11</text><text x="1098" y="1488">12</text><text x="1119" y="1488">13</text><text x="1140" y="1488">14</text><text x="1161" y="1488">15</text><text x="1182" y="1488">16</text><text x="1203" y="1488">17</text><text x="1225" y="1488">18</text><text x="1246" y="1488">19</text><text x="1267" y="1488">20</text><text x="1288" y="1488">21</text><text x="1308" y="1488">22</text><text x="1329" y="1488">23</text>
<text x="1037" y="1508">24</text><text x="1058" y="1508">25</text><text x="1098" y="1508">26</text><text x="1119" y="1508">27</text><text x="1140" y="1508">28</text><text x="1161" y="1508">29</text><text x="1203" y="1508">30</text><text x="1225" y="1508">31</text><text x="1246" y="1508">32</text><text x="1267" y="1508">33</text><text x="1308" y="1508">34</text><text x="1329" y="1508">35</text></g></g>

<text x="1287" y="1543" style="font-size:17px;font-weight:normal">WI-00594</text>
</svg>
</body></html>
